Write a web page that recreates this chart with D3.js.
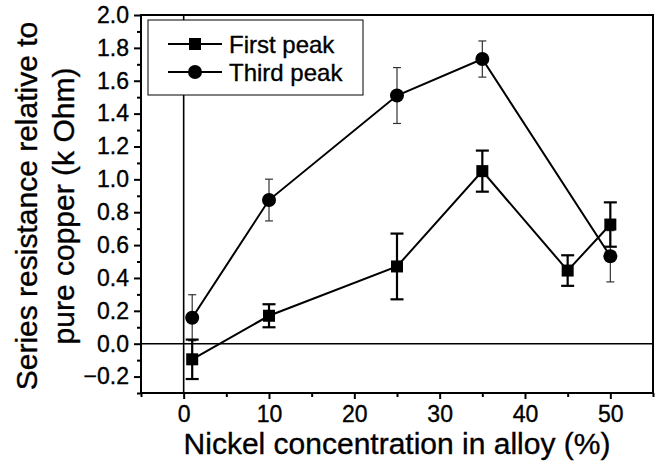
<!DOCTYPE html>
<html lang="en">
<head>
    <meta charset="UTF-8">
    <title>Series resistance vs nickel concentration</title>
    <script src="https://d3js.org/d3.v7.min.js"></script>
    <style>
        body { margin: 0; background: #fff; }
        text { font-family: "Liberation Sans", Arial, sans-serif; fill: #000; stroke: #000; stroke-width: 0.35px; }
        .tick-label { font-size: 23px; }
        .axis-title { font-size: 30px; }
        .legend-text { font-size: 24px; }
    </style>
</head>
<body>
    <div id="chart"></div>
    <script>
        // data
        const firstX   = [1, 10, 25, 35, 45, 50];
        const firstY   = [-0.095, 0.17, 0.47, 1.05, 0.445, 0.725];
        const firstErr = [0.12, 0.07, 0.2, 0.125, 0.093, 0.135];

        const thirdX   = [1, 10, 25, 35, 50];
        const thirdY   = [0.158, 0.874, 1.51, 1.732, 0.532];
        const thirdErr = [0.14, 0.127, 0.17, 0.11, 0.156];

        const xTicks = [0, 10, 20, 30, 40, 50];
        const xMinor = [-5, 5, 15, 25, 35, 45, 55];
        const yTicks = [-0.2, 0.0, 0.2, 0.4, 0.6, 0.8, 1.0, 1.2, 1.4, 1.6, 1.8, 2.0];
        const yMinor = [-0.3, -0.1, 0.1, 0.3, 0.5, 0.7, 0.9, 1.1, 1.3, 1.5, 1.7, 1.9];

        const seriesNames = ["First peak", "Third peak"];

        const W = 659, H = 468;
        const margin = {top: 15, right: 6, bottom: 75, left: 141};
        const width = W - margin.left - margin.right,
              height = H - margin.top - margin.bottom;

        const svg = d3.select("#chart").append("svg")
            .attr("width", W)
            .attr("height", H);

        const g = svg.append("g")
            .attr("transform", `translate(${margin.left},${margin.top})`);

        const x = d3.scaleLinear().domain([-5, 55]).range([0, width]);
        const y = d3.scaleLinear().domain([-0.3, 2.0]).range([height, 0]);

        // zero lines
        g.append("line")
            .attr("x1", x(0)).attr("x2", x(0))
            .attr("y1", 0).attr("y2", height)
            .attr("stroke", "#000").attr("stroke-width", 1.6);
        g.append("line")
            .attr("x1", 0).attr("x2", width)
            .attr("y1", y(0)).attr("y2", y(0))
            .attr("stroke", "#000").attr("stroke-width", 1.6);

        // axes
        const xAxis = g.append("g")
            .attr("transform", `translate(0,${height})`)
            .call(d3.axisBottom(x).tickValues(xTicks).tickSize(6).tickSizeOuter(0).tickFormat(d3.format("d")));
        xAxis.select(".domain").remove();
        xAxis.selectAll("line").attr("stroke-width", 2);
        xAxis.selectAll("text").attr("class", "tick-label").attr("font-size", null).attr("y", 11).attr("dy", "0.8em");

        const xAxisMinor = g.append("g")
            .attr("transform", `translate(0,${height})`)
            .call(d3.axisBottom(x).tickValues(xMinor).tickSize(4).tickFormat(""));
        xAxisMinor.select(".domain").remove();
        xAxisMinor.selectAll("line").attr("stroke-width", 2);

        const yAxis = g.append("g")
            .call(d3.axisLeft(y).tickValues(yTicks).tickSize(7).tickFormat(d3.format(".1f")));
        yAxis.select(".domain").remove();
        yAxis.selectAll("line").attr("stroke-width", 2);
        yAxis.selectAll("text").attr("class", "tick-label").attr("font-size", null).attr("x", -12);

        const yAxisMinor = g.append("g")
            .call(d3.axisLeft(y).tickValues(yMinor).tickSize(4).tickFormat(""));
        yAxisMinor.select(".domain").remove();
        yAxisMinor.selectAll("line").attr("stroke-width", 2);

        // frame
        g.append("rect")
            .attr("x", 0).attr("y", 0)
            .attr("width", width).attr("height", height)
            .attr("fill", "none").attr("stroke", "#000").attr("stroke-width", 2);

        const first = firstX.map((v, i) => ({x: v, y: firstY[i], e: firstErr[i]}));
        const third = thirdX.map((v, i) => ({x: v, y: thirdY[i], e: thirdErr[i]}));

        const line = d3.line().x(d => x(d.x)).y(d => y(d.y));

        // error bars
        function errorBars(data, cap, sw, col) {
            const eb = g.append("g");
            eb.selectAll(".v").data(data).enter().append("line")
                .attr("x1", d => x(d.x)).attr("x2", d => x(d.x))
                .attr("y1", d => y(d.y + d.e)).attr("y2", d => y(d.y - d.e))
                .attr("stroke", col).attr("stroke-width", sw);
            [1, -1].forEach(s => {
                eb.selectAll(".c" + s).data(data).enter().append("line")
                    .attr("x1", d => x(d.x) - cap / 2).attr("x2", d => x(d.x) + cap / 2)
                    .attr("y1", d => y(d.y + s * d.e)).attr("y2", d => y(d.y + s * d.e))
                    .attr("stroke", col).attr("stroke-width", sw);
            });
        }
        errorBars(third, 8, 1.2, "#333");
        errorBars(first, 13, 2.2, "#000");

        g.append("path").datum(third).attr("d", line)
            .attr("fill", "none").attr("stroke", "#000").attr("stroke-width", 2);
        g.append("path").datum(first).attr("d", line)
            .attr("fill", "none").attr("stroke", "#000").attr("stroke-width", 2);

        g.selectAll(".circ").data(third).enter().append("circle")
            .attr("cx", d => x(d.x)).attr("cy", d => y(d.y)).attr("r", 7)
            .attr("fill", "#000");
        g.selectAll(".sq").data(first).enter().append("rect")
            .attr("x", d => x(d.x) - 6).attr("y", d => y(d.y) - 6)
            .attr("width", 12).attr("height", 12)
            .attr("fill", "#000");

        // legend
        const lg = svg.append("g").attr("transform", "translate(148,20)");
        lg.append("rect").attr("width", 215).attr("height", 75)
            .attr("fill", "#fff").attr("stroke", "#000").attr("stroke-width", 1);
        seriesNames.forEach((name, i) => {
            const ly = 24 + i * 28;
            lg.append("line").attr("x1", 20).attr("x2", 74).attr("y1", ly).attr("y2", ly)
                .attr("stroke", "#000").attr("stroke-width", 2);
            if (i === 0) {
                lg.append("rect").attr("x", 41).attr("y", ly - 6).attr("width", 12).attr("height", 12).attr("fill", "#000");
            } else {
                lg.append("circle").attr("cx", 47).attr("cy", ly).attr("r", 7).attr("fill", "#000");
            }
            lg.append("text").attr("class", "legend-text")
                .attr("x", 81).attr("y", ly).attr("dy", "0.36em")
                .text(name);
        });

        // axis titles
        svg.append("text").attr("class", "axis-title")
            .attr("text-anchor", "middle")
            .attr("x", 397).attr("y", 454)
            .text("Nickel concentration in alloy (%)");

        const yt = svg.append("text").attr("class", "axis-title")
            .attr("text-anchor", "middle")
            .attr("transform", "translate(37,206) rotate(-90)");
        yt.append("tspan").attr("x", 0).attr("y", 0).text("Series resistance relative to");
        yt.append("tspan").attr("x", 0).attr("y", 37).text("pure copper (k Ohm)");
    </script>
</body>
</html>
